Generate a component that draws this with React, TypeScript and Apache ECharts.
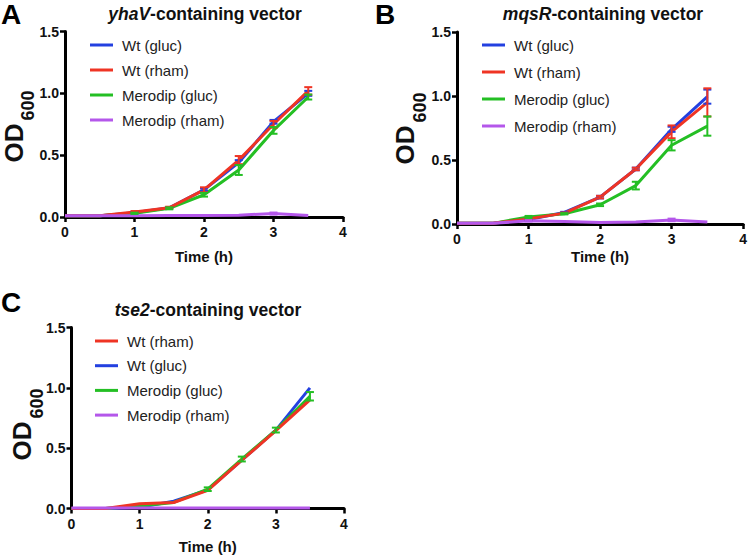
import React, { useEffect, useRef } from "react";
import * as echarts from "echarts";

const FONT = '"Liberation Sans", Arial, Helvetica, sans-serif';

// Time points (h)
const time = [0, 0.5, 1, 1.5, 2, 2.5, 3, 3.5];
const xTicks = [0, 1, 2, 3, 4];
const yTicks = [0, 0.5, 1.0, 1.5];

const NAME_WG = "Wt (gluc)";
const NAME_WR = "Wt (rham)";
const NAME_MG = "Merodip (gluc)";
const NAME_MR = "Merodip (rham)";

const COLORS: Record<string, string> = {
  [NAME_WG]: "#2340e0",
  [NAME_WR]: "#ef3424",
  [NAME_MG]: "#24bf24",
  [NAME_MR]: "#b457ea",
};

// Panel A: yhaV-containing vector
const A_wtGluc = [0.01, 0.01, 0.035, 0.075, 0.22, 0.44, 0.77, 1.0];
const A_wtGlucErr = [0, 0, 0.005, 0.005, 0.01, 0.02, 0.015, 0.02];
const A_wtRham = [0.01, 0.01, 0.04, 0.075, 0.22, 0.46, 0.75, 1.02];
const A_wtRhamErr = [0, 0, 0.008, 0.008, 0.02, 0.033, 0.027, 0.03];
const A_meroGluc = [0.01, 0.01, 0.03, 0.07, 0.18, 0.38, 0.7, 0.97];
const A_meroGlucErr = [0, 0, 0.005, 0.008, 0.015, 0.04, 0.027, 0.02];
const A_meroRham = [0.01, 0.01, 0.01, 0.012, 0.012, 0.015, 0.028, 0.012];
const A_meroRhamErr = [0, 0, 0, 0, 0, 0, 0.008, 0];

// Panel B: mqsR-containing vector
const B_wtGluc = [0.005, 0.005, 0.035, 0.09, 0.21, 0.43, 0.74, 0.995];
const B_wtGlucErr = [0, 0, 0.005, 0.005, 0.01, 0.01, 0.02, 0.055];
const B_wtRham = [0.005, 0.005, 0.04, 0.085, 0.21, 0.43, 0.72, 0.95];
const B_wtRhamErr = [0, 0, 0.005, 0.005, 0.01, 0.01, 0.05, 0.11];
const B_meroGluc = [0.005, 0.005, 0.055, 0.08, 0.15, 0.3, 0.615, 0.765];
const B_meroGlucErr = [0, 0, 0.008, 0.005, 0.01, 0.03, 0.04, 0.075];
const B_meroRham = [0.005, 0.005, 0.025, 0.02, 0.012, 0.015, 0.032, 0.015];
const B_meroRhamErr = [0, 0, 0.005, 0, 0, 0, 0.01, 0];

// Panel C: tse2-containing vector
const C_wtRham = [0, 0, 0.04, 0.05, 0.15, 0.4, 0.645, 0.9];
const C_wtRhamErr = [0, 0, 0, 0, 0, 0, 0, 0];
const C_wtGluc = [0, 0, 0.01, 0.06, 0.155, 0.4, 0.65, 1.0];
const C_wtGlucErr = [0, 0, 0, 0, 0, 0, 0, 0];
const C_meroGluc = [0, 0, 0.02, 0.05, 0.16, 0.41, 0.65, 0.93];
const C_meroGlucErr = [0, 0, 0, 0, 0.015, 0.02, 0.02, 0.035];
const C_meroRham = [0.005, 0.005, 0.005, 0.005, 0.005, 0.005, 0.005, 0.005];
const C_meroRhamErr = [0, 0, 0, 0, 0, 0, 0, 0];

const legendA = [NAME_WG, NAME_WR, NAME_MG, NAME_MR];
const legendB = [NAME_WG, NAME_WR, NAME_MG, NAME_MR];
const legendC = [NAME_WR, NAME_WG, NAME_MG, NAME_MR];

type Panel = {
  letter: string;
  geneItalic: string;
  grid: { left: number; top: number; width: number; height: number };
  letterPos: [number, number];
  titlePos: [number, number];
  odPos: [number, number];
  nameGap: number;
  legend: string[];
  legendPos: { left: number; top: number; gap: number };
  lines: { name: string; values: number[]; err: number[] }[];
};

const panels: Panel[] = [
  {
    letter: "A",
    geneItalic: "yhaV",
    grid: { left: 65, top: 31.5, width: 278, height: 185.5 },
    letterPos: [1, 0],
    titlePos: [205, 13.5],
    odPos: [13.5, 143],
    nameGap: 32,
    legend: legendA,
    legendPos: { left: 90, top: 37.5, gap: 10 },
    lines: [
      { name: NAME_WG, values: A_wtGluc, err: A_wtGlucErr },
      { name: NAME_MG, values: A_meroGluc, err: A_meroGlucErr },
      { name: NAME_WR, values: A_wtRham, err: A_wtRhamErr },
      { name: NAME_MR, values: A_meroRham, err: A_meroRhamErr },
    ],
  },
  {
    letter: "B",
    geneItalic: "mqsR",
    grid: { left: 457, top: 32, width: 289, height: 192 },
    letterPos: [375, 0],
    titlePos: [603, 13.5],
    odPos: [405, 145],
    nameGap: 25,
    legend: legendB,
    legendPos: { left: 482, top: 37.5, gap: 12 },
    lines: [
      { name: NAME_WG, values: B_wtGluc, err: B_wtGlucErr },
      { name: NAME_MG, values: B_meroGluc, err: B_meroGlucErr },
      { name: NAME_WR, values: B_wtRham, err: B_wtRhamErr },
      { name: NAME_MR, values: B_meroRham, err: B_meroRhamErr },
    ],
  },
  {
    letter: "C",
    geneItalic: "tse2",
    grid: { left: 71.5, top: 327.5, width: 272.5, height: 181 },
    letterPos: [1, 288],
    titlePos: [208, 309.5],
    odPos: [22, 441],
    nameGap: 30.5,
    legend: legendC,
    legendPos: { left: 95, top: 333.5, gap: 9.7 },
    lines: [
      { name: NAME_WG, values: C_wtGluc, err: C_wtGlucErr },
      { name: NAME_MG, values: C_meroGluc, err: C_meroGlucErr },
      { name: NAME_WR, values: C_wtRham, err: C_wtRhamErr },
      { name: NAME_MR, values: C_meroRham, err: C_meroRhamErr },
    ],
  },
];

function buildOption() {
  const grid: any[] = [];
  const xAxis: any[] = [];
  const yAxis: any[] = [];
  const legend: any[] = [];
  const series: any[] = [];
  const graphic: any[] = [];

  panels.forEach((p, gi) => {
    grid.push({ ...p.grid, containLabel: false });
    xAxis.push({
      gridIndex: gi,
      type: "value",
      min: xTicks[0],
      max: xTicks[xTicks.length - 1],
      interval: 1,
      name: "Time (h)",
      nameLocation: "middle",
      nameGap: p.nameGap,
      nameTextStyle: { fontFamily: FONT, fontWeight: "bold", fontSize: 15, color: "#111" },
      axisLine: { show: true, onZero: false, lineStyle: { color: "#000", width: 3 } },
      axisTick: { show: true, inside: false, length: 5, lineStyle: { color: "#000", width: 2.5 } },
      axisLabel: { fontFamily: FONT, fontWeight: "bold", fontSize: 14, color: "#111", margin: 8 },
      splitLine: { show: false },
    });
    yAxis.push({
      gridIndex: gi,
      type: "value",
      min: yTicks[0],
      max: yTicks[yTicks.length - 1],
      interval: 0.5,
      axisLine: { show: true, onZero: false, lineStyle: { color: "#000", width: 3 } },
      axisTick: { show: true, inside: false, length: 5, lineStyle: { color: "#000", width: 2.5 } },
      axisLabel: {
        fontFamily: FONT,
        fontWeight: "bold",
        fontSize: 14,
        color: "#111",
        margin: 6,
        formatter: (v: number) => v.toFixed(1),
      },
      splitLine: { show: false },
    });
    legend.push({
      orient: "vertical",
      left: p.legendPos.left,
      top: p.legendPos.top,
      itemGap: p.legendPos.gap,
      itemWidth: 23,
      itemHeight: 3,
      icon: "rect",
      selectedMode: false,
      padding: 0,
      data: p.legend.map((n) => ({ name: n, icon: "rect", itemStyle: { color: COLORS[n] } })),
      textStyle: { fontFamily: FONT, fontSize: 15, color: "#222", lineHeight: 15, padding: [0, 0, 0, 4] },
    });

    p.lines.forEach((l, li) => {
      const color = COLORS[l.name];
      series.push({
        type: "line",
        name: l.name,
        xAxisIndex: gi,
        yAxisIndex: gi,
        data: time.map((t, i) => [t, l.values[i]]),
        showSymbol: false,
        symbol: "none",
        color,
        lineStyle: { width: 3, color },
        itemStyle: { color },
        z: 2 + li,
        silent: true,
      });
    });
    // error bars drawn on top
    const errOrder = [NAME_WG, NAME_WR, NAME_MG, NAME_MR];
    errOrder.forEach((n, k) => {
      const l = p.lines.find((q) => q.name === n)!;
      const color = COLORS[n];
      const data = time
        .map((t, i) => [t, l.values[i] - l.err[i], l.values[i] + l.err[i], l.err[i]])
        .filter((d) => d[3] > 0);
      if (!data.length) return;
      series.push({
        type: "custom",
        name: n + " err " + gi,
        xAxisIndex: gi,
        yAxisIndex: gi,
        data,
        encode: { x: 0, y: [1, 2] },
        z: 10 + k,
        silent: true,
        renderItem: (_params: any, api: any) => {
          const x = api.value(0);
          const lo = api.coord([x, api.value(1)]);
          const hi = api.coord([x, api.value(2)]);
          const w = 4;
          const st = { stroke: color, lineWidth: 2 };
          return {
            type: "group",
            children: [
              { type: "line", shape: { x1: lo[0], y1: lo[1], x2: hi[0], y2: hi[1] }, style: st },
              { type: "line", shape: { x1: lo[0] - w, y1: lo[1], x2: lo[0] + w, y2: lo[1] }, style: st },
              { type: "line", shape: { x1: hi[0] - w, y1: hi[1], x2: hi[0] + w, y2: hi[1] }, style: st },
            ],
          };
        },
      });
    });

    graphic.push({
      type: "text",
      x: p.letterPos[0],
      y: p.letterPos[1],
      style: {
        text: p.letter,
        fontFamily: FONT,
        fontWeight: "bold",
        fontSize: 28,
        fill: "#000",
        align: "left",
        verticalAlign: "top",
      },
    });
    graphic.push({
      type: "text",
      x: p.titlePos[0],
      y: p.titlePos[1],
      style: {
        text: `{i|${p.geneItalic}}{n|-containing vector}`,
        align: "center",
        verticalAlign: "middle",
        fontFamily: FONT,
        fontWeight: "bold",
        fontSize: 17.5,
        fill: "#111",
        rich: {
          i: { fontFamily: FONT, fontWeight: "bold", fontStyle: "italic", fontSize: 17.5, fill: "#111" },
          n: { fontFamily: FONT, fontWeight: "bold", fontSize: 17.5, fill: "#111" },
        },
      },
    });
    graphic.push({
      type: "text",
      x: p.odPos[0],
      y: p.odPos[1],
      rotation: Math.PI / 2,
      style: {
        text: "OD",
        fontFamily: FONT,
        fontWeight: "bold",
        fontSize: 26,
        fill: "#111",
        align: "center",
        verticalAlign: "middle",
      },
    });
    graphic.push({
      type: "text",
      x: p.odPos[0] + 14.5,
      y: p.odPos[1] - 37.5,
      rotation: Math.PI / 2,
      style: {
        text: "600",
        fontFamily: FONT,
        fontWeight: "bold",
        fontSize: 18,
        fill: "#111",
        align: "center",
        verticalAlign: "middle",
      },
    });
  });

  return {
    animation: false,
    backgroundColor: "#ffffff",
    grid,
    xAxis,
    yAxis,
    legend,
    series,
    graphic,
  };
}

export default function App() {
  const ref = useRef<HTMLDivElement>(null);
  useEffect(() => {
    document.body.style.margin = "0";
    if (!ref.current) return;
    const chart = echarts.init(ref.current, undefined, { renderer: "svg" });
    chart.setOption(buildOption() as any);
    return () => chart.dispose();
  }, []);
  return (
    <div
      ref={ref}
      style={{ position: "fixed", left: 0, top: 0, width: 750, height: 556, background: "#fff" }}
    />
  );
}
